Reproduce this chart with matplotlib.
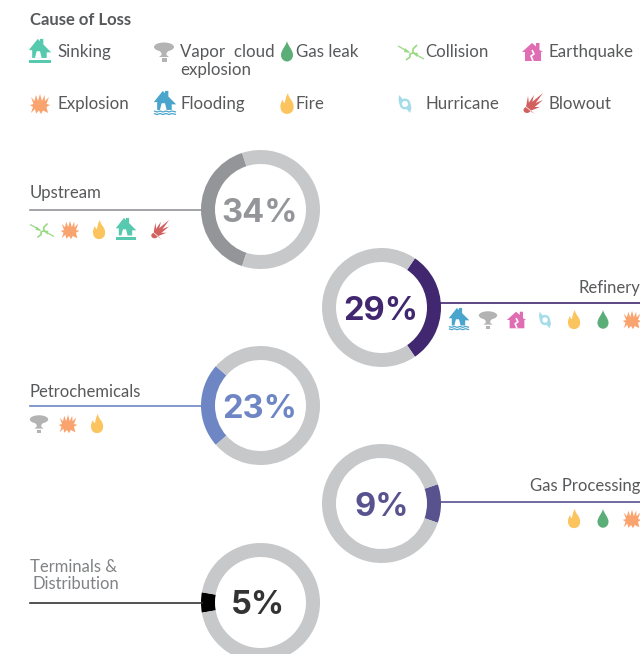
import matplotlib
matplotlib.use('Agg')
import matplotlib.pyplot as plt
from matplotlib.patches import Polygon, PathPatch, Ellipse
from matplotlib.path import Path

# donut values
sectors = ['Upstream', 'Refinery', 'Petrochemicals', 'Gas Processing', 'Terminals &', 'Distribution']
share_labels = ['34%', '29%', '23%', '9%', '5%']
# arc sizes as drawn in the picture, in percent of the ring
arc_shares = [40, 31, 23, 10.5, 5.5]
arc_colors = ['#939598', '#41276f', '#6f86c4', '#58528f', '#000000']
text_colors = ['#939598', '#41276f', '#6f86c4', '#58528f', '#333333']

legend_row1 = ['Sinking', 'Vapor  cloud', 'Gas leak', 'Collision', 'Earthquake']
legend_row2 = ['Explosion', 'Flooding', 'Fire', 'Hurricane', 'Blowout']

upstream_icons = ['collision', 'explosion', 'fire', 'sinking', 'blowout']
refinery_icons = ['flooding', 'vapor', 'earthquake', 'hurricane', 'fire', 'gas', 'explosion']
petro_icons = ['vapor', 'explosion', 'fire']
gas_icons = ['fire', 'gas', 'explosion']

H = 654
plt.rcParams['font.family'] = ['Lato', 'DejaVu Sans']
fig = plt.figure(figsize=(6.4, 6.54), dpi=100)
ax = fig.add_axes([0, 0, 1, 1])


def py(y):
    return H - y


def poly(pts, x, y, s, color, z=3):
    ax.add_patch(Polygon([(x + a * s, py(y + b * s)) for a, b in pts], closed=True,
                         fc=color, ec='none', zorder=z))


def line(pts, x, y, s, color, lw=1.0, z=3):
    ax.plot([x + a * s for a, b in pts], [py(y + b * s) for a, b in pts], color=color, lw=lw,
            solid_capstyle='butt', zorder=z)


def drop(x, y, s, color):
    verts = [(0, -11), (1, -6), (6, -2), (6, 3), (6, 7), (3, 9.5), (0, 9.5),
             (-3, 9.5), (-6, 7), (-6, 3), (-6, -2), (-1, -6), (0, -11)]
    codes = [Path.MOVETO] + [Path.CURVE4] * 12
    ax.add_patch(PathPatch(Path([(x + a * s, py(y + b * s)) for a, b in verts], codes),
                           fc=color, ec='none', zorder=3))


def flame(x, y, s, color):
    s = s * 1.1
    verts = [(1, -10), (1, -5), (6.5, -3), (6, 3), (6, 7), (3, 9), (0, 9),
             (-4, 9), (-6, 6), (-6, 2), (-6, 0), (-5, -2), (-4, -4),
             (-3.5, -2), (-3, -1), (-2, -1), (-1.5, -4), (-1, -7), (1, -10)]
    codes = [Path.MOVETO] + [Path.CURVE4] * 18
    ax.add_patch(PathPatch(Path([(x + a * s, py(y + b * s)) for a, b in verts], codes),
                           fc=color, ec='none', zorder=3))


def house(x, y, s, color):
    s = s * 1.12
    poly([(-10, 1), (-2, -9), (0, -7), (0, -9), (3, -9), (3, -4), (10, 3), (6, 3), (6, 8),
          (1.5, 8), (0, 2), (-3, 2), (-4.5, 8), (-7, 8), (-7, 1)], x, y, s, color)


def draw_icon(name, x, y, s=1.0):
    if name == 'sinking':
        house(x, y - 3 * s, s, '#57c9ae')
        poly([(-11, 7.5), (11, 7.5), (11, 11), (-11, 11)], x, y, s, '#57c9ae')
    elif name == 'flooding':
        house(x, y - 3 * s, s, '#4aa5cc')
        zig = [(-11, 0), (-8, 1), (-5, 0), (-2, 1), (1, 0), (4, 1), (7, 0), (11, 1)]
        line(zig, x, y + 7 * s, s, '#4aa5cc', 0.9)
        line(zig, x, y + 9.5 * s, s, '#4aa5cc', 0.9)
    elif name == 'earthquake':
        poly([(-11, 0), (-1, -9), (3, -5.5), (3, -9), (6.5, -9), (6.5, -2), (10, 0), (8, 0), (8, 9), (-8, 9), (-8, 0)],
             x, y, s, '#e06db3')
        line([(-1, -2), (1, 2), (-2, 4), (0, 9)], x, y, s, 'white', 1.2, z=4)
    elif name == 'vapor':
        c = '#b3b3b3'
        ax.add_patch(Ellipse((x, py(y - 5 * s)), 20 * s, 9 * s, fc=c, ec='none', zorder=3))
        poly([(-6, -3), (6, -3), (2.5, 1), (2.5, 3), (5, 5), (-5, 5), (-2.5, 3), (-2.5, 1)], x, y, s, c)
        poly([(-2.5, 6), (2.5, 6), (2.5, 9.5), (-2.5, 9.5)], x, y, s, c)
    elif name == 'gas':
        drop(x, y, s, '#5bae78')
    elif name == 'fire':
        flame(x, y, s, '#fcc45f')
    elif name == 'explosion':
        poly([(-9, -7), (-5.5, -3), (-4, -9), (-2, -3), (0, -10), (2, -3), (4.5, -9), (5, -3), (9, -7),
              (6.5, 0), (10, 1), (6.5, 3), (8, 9), (3, 6.5), (1, 10), (-1, 6.5), (-4, 9.5),
              (-5, 5), (-9, 9), (-7, 3), (-10, 1), (-6.5, 0)],
             x, y, s, '#f9a36f')
    elif name == 'collision':
        c = '#9bd884'
        line([(-13, -6), (-2, 0)], x, y, s, c, 0.9)
        poly([(-1, 1), (-6, -4), (-7, 0)], x, y, s, c)
        line([(13, 7), (2, 1)], x, y, s, c, 0.9)
        poly([(1, 0), (6, 5), (7, 1)], x, y, s, c)
        line([(6, -7), (2, -3), (2, 1), (-1, 2), (-1, 5), (-5, 8)], x, y, s, c, 1.2)
    elif name == 'hurricane':
        c = '#a5dcea'
        ax.add_patch(Ellipse((x, py(y)), 8.5 * s, 8.5 * s, fc='none', ec=c, lw=1.7, zorder=3))
        poly([(-6, -9), (-2, -4.5), (-5.5, 0), (-6.5, -4)], x, y, s, c)
        poly([(5, 9), (1, 4.5), (5.5, 0), (6.5, 4)], x, y, s, c)
    elif name == 'blowout':
        c = '#d2605f'
        ax.add_patch(Ellipse((x - 6 * s, py(y + 6 * s)), 7 * s, 6 * s, fc=c, ec='none', zorder=3))
        for a, b in [(-5, -8), (1, -9), (10, -11), (10, -4), (7, 3), (2, 10)]:
            poly([(-7, 3), (a, b), (-3, 7)], x, y, s, c)
        line([(-8, 2), (-2, 7)], x, y, s, 'white', 0.5, z=4)


def draw_donut(cx, cy, share, color, label, text_color, side, text_x):
    # the coloured arc is centred on the side where the leader line joins
    mid = 180 if side == 'left' else 0
    start = mid - share * 3.6 / 2
    ax.pie([share, 100 - share], colors=[color, '#c7c8ca'], startangle=start, counterclock=True,
           center=(cx, py(cy)), radius=59.5, frame=True,
           wedgeprops=dict(width=14, linewidth=0))
    ax.text(text_x, py(cy), label, color=text_color, fontsize=23.5, fontweight='bold',
            fontfamily='Inter', ha='center', va='center_baseline', zorder=4)


# legend
label_color = '#58595b'
ax.text(30, py(20), 'Cause of Loss', color='#58595b', fontsize=12, fontweight='bold', va='center')

row1_icons = ['sinking', 'vapor', 'gas', 'collision', 'earthquake']
row2_icons = ['explosion', 'flooding', 'fire', 'hurricane', 'blowout']
row1_icon_x = [40, 164, 287, 411, 533]
row2_icon_x = [40, 165, 287, 405, 533]
row1_text_x = [57.5, 180.5, 295.5, 425.5, 548.5]
row2_text_x = [57.5, 180.5, 295.5, 425.5, 548.5]
for i in range(5):
    draw_icon(row1_icons[i], row1_icon_x[i], 52, 1.0)
    draw_icon(row2_icons[i], row2_icon_x[i], 104, 1.0)
    ax.text(row1_text_x[i], py(52), legend_row1[i], color=label_color, fontsize=12.2, va='center')
    ax.text(row2_text_x[i], py(104), legend_row2[i], color=label_color, fontsize=12.2, va='center')
ax.text(180.5, py(70), 'explosion', color=label_color, fontsize=12.2, va='center')

# donuts
centers = [(260.5, 209.5), (381.5, 307.5), (260.5, 405.5), (381.5, 503.5), (260.5, 602.5)]
text_xs = [260, 381, 260, 381.5, 258]
sides = ['left', 'right', 'left', 'right', 'left']
for i in range(5):
    draw_donut(centers[i][0], centers[i][1], arc_shares[i], arc_colors[i], share_labels[i], text_colors[i],
               sides[i], text_xs[i])

# leader lines and sector names
ax.plot([30, 202], [py(209.5)] * 2, color='#939598', lw=1.2, zorder=1)
ax.plot([440, 640], [py(303)] * 2, color='#41276f', lw=1.2, zorder=1)
ax.plot([30, 202], [py(405.5)] * 2, color='#6f86c4', lw=1.2, zorder=1)
ax.plot([440, 640], [py(502)] * 2, color='#58528f', lw=1.2, zorder=1)
ax.plot([30, 202], [py(603)] * 2, color='#333333', lw=1.2, zorder=1)

ax.text(30, py(193), sectors[0], color=label_color, fontsize=12.1, va='center')
ax.text(640, py(288), sectors[1], color=label_color, fontsize=12, va='center', ha='right')
ax.text(29.5, py(392), sectors[2], color=label_color, fontsize=12, va='center')
ax.text(640, py(486), sectors[3], color=label_color, fontsize=12, va='center', ha='right')
ax.text(30, py(567), sectors[4], color='#808285', fontsize=12, va='center')
ax.text(33, py(584), sectors[5], color='#808285', fontsize=12, va='center')

# sector icons
for name, x in zip(upstream_icons, [42, 70, 99, 126, 160]):
    draw_icon(name, x, 230, 0.92)
for name, x in zip(refinery_icons, [459, 488, 517, 545, 574, 603, 632]):
    draw_icon(name, x, 320, 0.92)
for name, x in zip(petro_icons, [39, 68, 97]):
    draw_icon(name, x, 424, 0.92)
for name, x in zip(gas_icons, [574, 603, 632]):
    draw_icon(name, x, 519, 0.92)

ax.set_xlim(0, 640)
ax.set_ylim(0, H)
ax.set_aspect('auto')
ax.axis('off')

fig.savefig('out.png', dpi=100)
